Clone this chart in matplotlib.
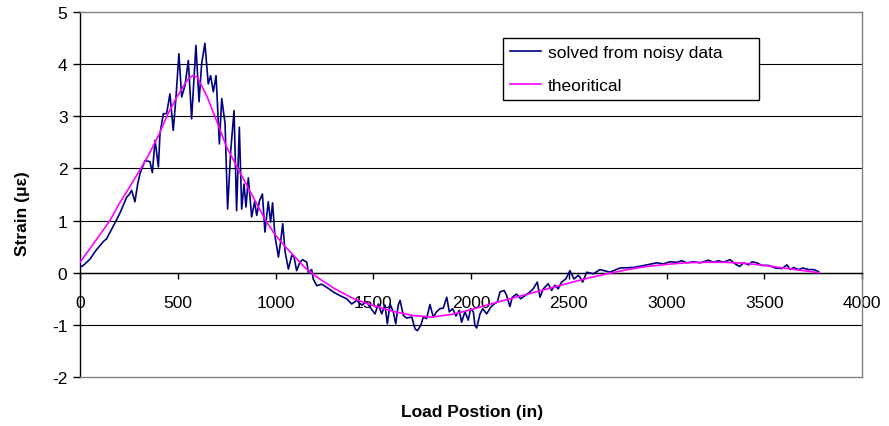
import numpy as np
import matplotlib
matplotlib.use("Agg")
import matplotlib.pyplot as plt

plt.rcParams['font.family'] = ['Liberation Sans', 'DejaVu Sans']
plt.rcParams['axes.unicode_minus'] = False

# strain solved from the noisy measurements (load position in inches, strain in microstrain)
noisy_x = [0, 20, 51, 80, 102, 120, 136, 150, 171, 185, 205, 222, 239, 252, 264, 281,
           295, 307, 332, 358, 370, 384, 401, 409, 426, 443, 460, 477, 491, 506, 520,
           537, 554, 571, 593, 609, 622, 639, 656, 668, 682, 696, 713, 725, 742, 755,
           771, 788, 801, 815, 827, 839, 849, 861, 878, 893, 904, 918, 933, 946, 963,
           975, 985, 997, 1015, 1026, 1037, 1049, 1066, 1083, 1095, 1108, 1125, 1139,
           1160, 1168, 1185, 1193, 1211, 1236, 1262, 1296, 1330, 1364, 1390, 1415,
           1441, 1466, 1483, 1509, 1526, 1543, 1560, 1572, 1586, 1603, 1615, 1628,
           1637, 1654, 1671, 1697, 1714, 1726, 1743, 1756, 1773, 1790, 1807, 1824,
           1841, 1858, 1876, 1889, 1906, 1923, 1940, 1952, 1969, 1986, 1998, 2012,
           2020, 2029, 2046, 2060, 2080, 2101, 2118, 2135, 2148, 2169, 2182, 2199,
           2211, 2233, 2254, 2276, 2301, 2318, 2339, 2353, 2370, 2395, 2412, 2429,
           2446, 2463, 2485, 2506, 2527, 2549, 2558, 2571, 2592, 2626, 2660, 2711,
           2762, 2830, 2899, 2950, 2984, 3018, 3053, 3078, 3104, 3138, 3172, 3215,
           3240, 3266, 3291, 3325, 3351, 3374, 3394, 3420, 3437, 3462, 3488, 3522,
           3556, 3590, 3616, 3633, 3650, 3675, 3698, 3727, 3752, 3778]
noisy_y = [0.10, 0.15, 0.26, 0.42, 0.52, 0.60, 0.65, 0.75, 0.90, 1.00, 1.15, 1.30, 1.45,
           1.50, 1.58, 1.36, 1.70, 1.90, 2.15, 2.13, 1.92, 2.54, 2.03, 2.66, 3.05, 3.05,
           3.43, 2.73, 3.37, 4.20, 3.37, 3.59, 4.07, 2.95, 4.36, 3.28, 4.00, 4.40, 3.62,
           3.78, 3.47, 3.78, 2.47, 3.34, 2.86, 1.22, 2.34, 3.11, 1.19, 2.79, 1.22, 1.70,
           1.26, 1.82, 1.07, 1.36, 1.10, 1.38, 1.51, 0.78, 1.36, 0.97, 1.34, 0.71, 0.30,
           0.59, 0.94, 0.40, 0.07, 0.33, 0.30, 0.04, 0.20, 0.25, 0.20, 0.01, 0.06, -0.12,
           -0.25, -0.22, -0.28, -0.37, -0.44, -0.50, -0.60, -0.53, -0.62, -0.56, -0.66,
           -0.79, -0.60, -0.79, -0.62, -0.98, -0.60, -0.76, -0.98, -0.62, -0.53, -0.82,
           -0.87, -0.85, -1.08, -1.11, -1.01, -0.85, -0.88, -0.61, -0.85, -0.75, -0.69,
           -0.68, -0.47, -0.75, -0.69, -0.83, -0.72, -0.95, -0.75, -0.91, -0.69, -0.75,
           -1.01, -1.06, -0.79, -0.69, -0.79, -0.66, -0.60, -0.56, -0.37, -0.34, -0.43,
           -0.65, -0.47, -0.41, -0.50, -0.44, -0.37, -0.31, -0.18, -0.47, -0.31, -0.21,
           -0.34, -0.24, -0.31, -0.18, -0.12, 0.04, -0.12, -0.05, -0.09, -0.18, 0.01,
           -0.02, 0.06, 0.01, 0.09, 0.10, 0.15, 0.19, 0.17, 0.21, 0.20, 0.23, 0.19,
           0.21, 0.19, 0.24, 0.20, 0.23, 0.20, 0.25, 0.17, 0.12, 0.19, 0.15, 0.21, 0.19,
           0.14, 0.14, 0.09, 0.08, 0.15, 0.06, 0.10, 0.06, 0.09, 0.06, 0.06, 0.02]

# theoretical influence line
theory_x = [0, 100, 153, 200, 250, 300, 350, 400, 450, 500, 550, 575, 600, 650, 700,
            750, 800, 850, 900, 950, 1000, 1050, 1100, 1150, 1200, 1250, 1300, 1400,
            1500, 1600, 1700, 1800, 1900, 2000, 2100, 2200, 2300, 2400, 2500, 2600,
            2700, 2800, 2900, 3000, 3100, 3200, 3300, 3400, 3500, 3600, 3700, 3780]
theory_y = [0.20, 0.72, 1.00, 1.32, 1.62, 1.93, 2.25, 2.62, 3.05, 3.40, 3.70, 3.78,
            3.75, 3.38, 2.90, 2.41, 2.05, 1.70, 1.35, 1.00, 0.72, 0.50, 0.30, 0.10,
            -0.05, -0.18, -0.30, -0.50, -0.63, -0.74, -0.82, -0.85, -0.80, -0.71,
            -0.60, -0.50, -0.40, -0.30, -0.20, -0.10, -0.02, 0.06, 0.12, 0.16, 0.19,
            0.20, 0.20, 0.18, 0.14, 0.09, 0.04, 0.00]

x_ticks = np.arange(0, 4001, 500)
y_ticks = np.arange(-2, 6, 1)

fig = plt.figure(figsize=(8.89, 4.27), dpi=100)
ax = fig.add_axes([80 / 889, 49 / 427, 782 / 889, 365 / 427])

# horizontal gridlines, plot area border in grey
for yv in y_ticks[1:-1]:
    ax.axhline(yv, color='black', lw=0.8, zorder=1)
ax.axhline(-2, color='#808080', lw=1.0, zorder=3, clip_on=False)

ax.plot(noisy_x, noisy_y, color='#000080', lw=1.2, label='solved from noisy data', zorder=4)
ax.plot(theory_x, theory_y, color='#FF00FF', lw=1.2, label='theoritical', zorder=5)

ax.set_xlim(0, 4000)
ax.set_ylim(-2, 5)
ax.set_xticks(x_ticks)
ax.set_yticks(y_ticks)

ax.spines['bottom'].set_position(('data', 0))
ax.spines['bottom'].set_color('black')
ax.spines['left'].set_color('black')
ax.spines['top'].set_color('#808080')
ax.spines['right'].set_color('#808080')
for s in ax.spines.values():
    s.set_linewidth(1.0)

ax.tick_params(axis='x', direction='out', length=4, width=1, pad=12, labelsize=12.5)
ax.tick_params(axis='y', direction='out', length=5, width=1, pad=4, labelsize=12.5)

leg = ax.legend(loc='lower left', bbox_to_anchor=(0.5406, 0.76, 0.3277, 0.168),
                mode='expand', fontsize=12.5, frameon=True, fancybox=False,
                borderpad=0.4, labelspacing=1.0, handlelength=1.8, handletextpad=0.4,
                borderaxespad=0)
leg.get_frame().set_edgecolor('black')
leg.get_frame().set_linewidth(1.0)
leg.get_frame().set_alpha(1)
leg.set_zorder(6)

fig.text(23 / 889, 0.5, 'Strain (με)', rotation=90,
         ha='center', va='center', fontsize=12.5, fontweight='bold')
fig.text(471.7 / 889, 1 - 413 / 427, 'Load Postion (in)', ha='center', va='center',
         fontsize=12.5, fontweight='bold')

fig.savefig('out.png', dpi=100)
